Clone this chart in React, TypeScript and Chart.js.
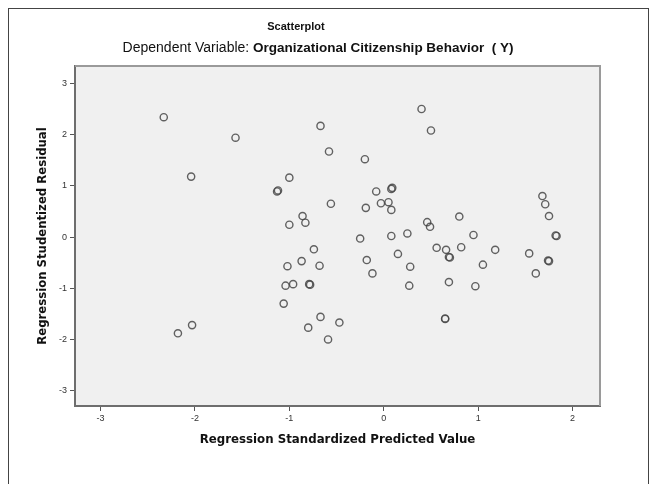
import React, { useEffect, useRef } from "react";
import { Chart, registerables } from "chart.js";

Chart.register(...registerables);

const titleText = "Scatterplot";
const subtitleLead = "Dependent Variable: ";
const subtitleBold = "Organizational Citizenship Behavior  ( Y)";
const xAxisTitle = "Regression Standardized Predicted Value";
const yAxisTitle = "Regression Studentized Residual";

const xTickValues = [-3, -2, -1, 0, 1, 2];
const yTickValues = [-3, -2, -1, 0, 1, 2, 3];

const predicted = [
  -2.33, -2.04, -2.18, -2.03, -1.57, -0.67, -0.58, -0.2, 0.4, 0.5,
  -1.0, -1.13, -1.12, -0.56, -0.86, -0.83, -1.0, -0.08, 0.08, 0.09,
  -0.19, -0.03, 0.05, 0.08, -0.25, 0.08, 0.25, -0.74, 0.15, -0.87,
  -0.18, -1.02, -0.68, -1.04, -0.96, -0.79, -0.78, -1.06, -0.67, -0.47,
  -0.8, -0.59, -0.12, 0.28, 0.27, 0.46, 0.49, 0.8, 0.95, 0.56,
  0.66, 0.69, 0.7, 0.82, 1.05, 0.69, 0.97, 0.65, 0.65, 1.18,
  1.54, 1.74, 1.75, 1.61, 1.68, 1.71, 1.75, 1.82, 1.83,
];

const residual = [
  2.34, 1.18, -1.88, -1.72, 1.94, 2.17, 1.67, 1.52, 2.5, 2.08,
  1.16, 0.89, 0.91, 0.65, 0.41, 0.28, 0.24, 0.89, 0.94, 0.96,
  0.57, 0.66, 0.68, 0.53, -0.03, 0.02, 0.07, -0.24, -0.33, -0.47,
  -0.45, -0.57, -0.56, -0.95, -0.92, -0.92, -0.93, -1.3, -1.56, -1.67,
  -1.77, -2.0, -0.71, -0.58, -0.95, 0.29, 0.2, 0.4, 0.04, -0.21,
  -0.25, -0.39, -0.4, -0.2, -0.54, -0.88, -0.96, -1.59, -1.6, -0.25,
  -0.32, -0.46, -0.47, -0.71, 0.8, 0.64, 0.41, 0.03, 0.02,
];

const framePlugin = {
  id: "spssFrame",
  beforeDraw(chart: any) {
    const { ctx, chartArea: a } = chart;
    ctx.save();
    ctx.fillStyle = "#f0f0f0";
    ctx.fillRect(a.left, a.top, a.right - a.left, a.bottom - a.top);
    ctx.restore();
  },
  beforeDatasetsDraw(chart: any) {
    const { ctx, chartArea: a } = chart;
    ctx.save();
    ctx.strokeStyle = "#9a9a9a";
    ctx.lineWidth = 2;
    ctx.beginPath();
    ctx.moveTo(a.left, a.top);
    ctx.lineTo(a.right, a.top);
    ctx.lineTo(a.right, a.bottom);
    ctx.stroke();
    ctx.restore();
  },
  afterDraw(chart: any) {
    const { ctx } = chart;
    ctx.save();
    ctx.fillStyle = "#111";
    ctx.textBaseline = "middle";
    ctx.textAlign = "center";
    ctx.font = "bold 11px 'Liberation Sans', Arial, sans-serif";
    ctx.fillText(titleText, 296, 27);
    const leadFont = "14px 'Liberation Sans', Arial, sans-serif";
    const boldFont = "bold 13.5px 'Liberation Sans', Arial, sans-serif";
    ctx.font = leadFont;
    const w1 = ctx.measureText(subtitleLead).width;
    ctx.font = boldFont;
    const w2 = ctx.measureText(subtitleBold).width;
    const start = 318 - (w1 + w2) / 2;
    ctx.textAlign = "left";
    ctx.font = leadFont;
    ctx.fillText(subtitleLead, start, 48);
    ctx.font = boldFont;
    ctx.fillText(subtitleBold, start + w1, 48);
    ctx.restore();
  },
};

export default function App() {
  const ref = useRef<HTMLCanvasElement | null>(null);

  useEffect(() => {
    if (!ref.current) return;
    const points = predicted.map((x, i) => ({ x, y: residual[i] }));
    const chart = new Chart(ref.current, {
      type: "scatter",
      data: {
        datasets: [
          {
            data: points,
            pointStyle: "circle",
            pointRadius: 3.6,
            pointBorderWidth: 1.4,
            pointBorderColor: "rgba(70,70,70,0.85)",
            pointBackgroundColor: "rgba(0,0,0,0)",
          },
        ],
      },
      options: {
        animation: false,
        responsive: false,
        devicePixelRatio: 1,
        layout: { padding: { top: 66, right: 56, bottom: 0, left: 0 } },
        plugins: {
          legend: { display: false },
          tooltip: { enabled: false },
          title: { display: false },
        },
        scales: {
          x: {
            type: "linear",
            min: -3.27,
            max: 2.29,
            afterBuildTicks: (axis: any) => {
              axis.ticks = xTickValues.map((v) => ({ value: v }));
            },
            afterFit: (axis: any) => {
              axis.height = 78;
            },
            border: { display: true, color: "#6e6e6e", width: 2 },
            grid: {
              display: true,
              drawOnChartArea: false,
              drawTicks: true,
              tickLength: 5,
              color: "#555",
            },
            ticks: {
              color: "#333",
              padding: 2,
              font: { size: 9, family: "'Liberation Sans', Arial, sans-serif" },
              callback: (v: any) => String(v),
            },
            title: {
              display: true,
              text: xAxisTitle,
              color: "#111",
              font: { size: 11.8, weight: "bold", family: "'DejaVu Sans', sans-serif" },
              padding: { top: 0, bottom: 37 },
            },
          },
          y: {
            type: "linear",
            min: -3.3,
            max: 3.34,
            afterBuildTicks: (axis: any) => {
              axis.ticks = yTickValues.map((v) => ({ value: v }));
            },
            afterFit: (axis: any) => {
              axis.width = 75;
            },
            border: { display: true, color: "#6e6e6e", width: 2 },
            grid: {
              display: true,
              drawOnChartArea: false,
              drawTicks: true,
              tickLength: 5,
              color: "#555",
            },
            ticks: {
              color: "#333",
              padding: 3,
              font: { size: 9, family: "'Liberation Sans', Arial, sans-serif" },
              callback: (v: any) => String(v),
            },
            title: {
              display: true,
              text: yAxisTitle,
              color: "#111",
              font: { size: 11.7, weight: "bold", family: "'DejaVu Sans', sans-serif" },
              padding: { top: 36, bottom: 0 },
            },
          },
        },
      },
      plugins: [framePlugin],
    });
    return () => chart.destroy();
  }, []);

  return (
    <div style={{ position: "absolute", left: 0, top: 0, width: 656, height: 484, background: "#fff" }}>
      <div
        style={{
          position: "absolute",
          left: 8,
          top: 8,
          width: 641,
          height: 476,
          borderTop: "1px solid #444",
          borderLeft: "1px solid #444",
          borderRight: "1px solid #444",
          boxSizing: "border-box",
        }}
      />
      <canvas ref={ref} width={656} height={484} style={{ position: "absolute", left: 0, top: 0 }} />
    </div>
  );
}
